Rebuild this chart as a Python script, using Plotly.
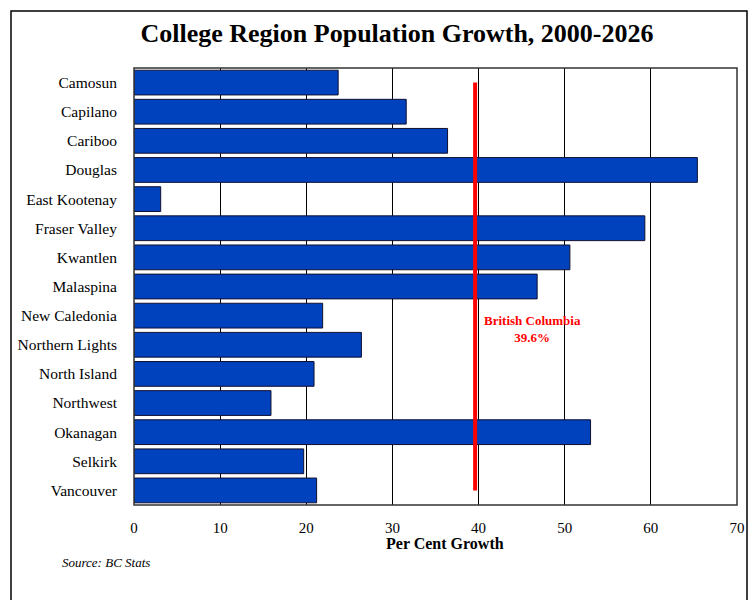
import plotly.graph_objects as go

categories = ["Camosun", "Capilano", "Cariboo", "Douglas", "East Kootenay", "Fraser Valley",
              "Kwantlen", "Malaspina", "New Caledonia", "Northern Lights", "North Island",
              "Northwest", "Okanagan", "Selkirk", "Vancouver"]
growth = [23.7, 31.6, 36.4, 65.4, 3.1, 59.3, 50.6, 46.8, 21.9, 26.4, 20.9, 15.9, 53.0, 19.7, 21.2]
bc_value = 39.6
x_ticks = [0, 10, 20, 30, 40, 50, 60, 70]

SERIF = "Liberation Serif, Times New Roman, serif"
L, R, T, B = 134, 12, 68, 95
W, H = 749, 600
pw, ph = W - L - R, H - T - B

def px(x):
    return (x - L) / pw

def py(y):
    return (H - B - y) / ph

fig = go.Figure()
fig.add_trace(go.Bar(
    x=growth, y=categories, orientation="h",
    marker=dict(color="#0041BE", line=dict(color="#101030", width=1)),
    width=0.85, showlegend=False, hoverinfo="x+y",
))
fig.add_trace(go.Scatter(
    x=[bc_value, bc_value], y=[categories[0], categories[-1]],
    mode="lines", line=dict(color="#FF0000", width=4), showlegend=False,
))

fig.update_layout(
    width=W, height=H,
    margin=dict(l=L, r=R, t=T, b=B, autoexpand=False),
    paper_bgcolor="white", plot_bgcolor="white",
    font=dict(family=SERIF, size=15, color="black"),
    title=dict(text="<b>College Region Population Growth, 2000-2026</b>",
               x=397 / W, xanchor="center", y=1 - 33 / H, yanchor="middle",
               font=dict(family=SERIF, size=26, color="black")),
    xaxis=dict(range=[0, 70], tickvals=x_ticks, showgrid=True, gridcolor="#000000",
               gridwidth=1, zeroline=False, showline=False, ticks="", automargin=False,
               ticklabelstandoff=12, tickfont=dict(family=SERIF, size=15)),
    yaxis=dict(categoryorder="array", categoryarray=categories, range=[14.5, -0.5],
               showgrid=False, zeroline=False, showline=False, ticks="", automargin=False,
               ticklabelstandoff=16, tickfont=dict(family=SERIF, size=15.5)),
    shapes=[
        dict(type="rect", xref="paper", yref="paper", x0=0, x1=1, y0=0, y1=1,
             line=dict(color="#333333", width=1.5), layer="above"),
        dict(type="rect", xref="paper", yref="paper", x0=px(11), x1=px(747),
             y0=py(610), y1=py(11), line=dict(color="black", width=1.5), layer="above"),
    ],
    annotations=[
        dict(text="<b>British Columbia<br>39.6%</b>", x=46.3, y=8.45, xref="x", yref="y",
             xanchor="center", yanchor="middle",
             showarrow=False, font=dict(family=SERIF, size=13, color="#FF0000"),
             align="center"),
        dict(text="<b>Per Cent Growth</b>", x=px(445), y=py(543), xref="paper", yref="paper",
             xanchor="center", yanchor="middle",
             showarrow=False, font=dict(family=SERIF, size=16, color="black")),
        dict(text="<i>Source: BC Stats</i>", x=px(60), y=py(562), xref="paper", yref="paper",
             xanchor="left", yanchor="middle",
             showarrow=False, font=dict(family=SERIF, size=13, color="black")),
    ],
)

fig.write_html("out.html")
